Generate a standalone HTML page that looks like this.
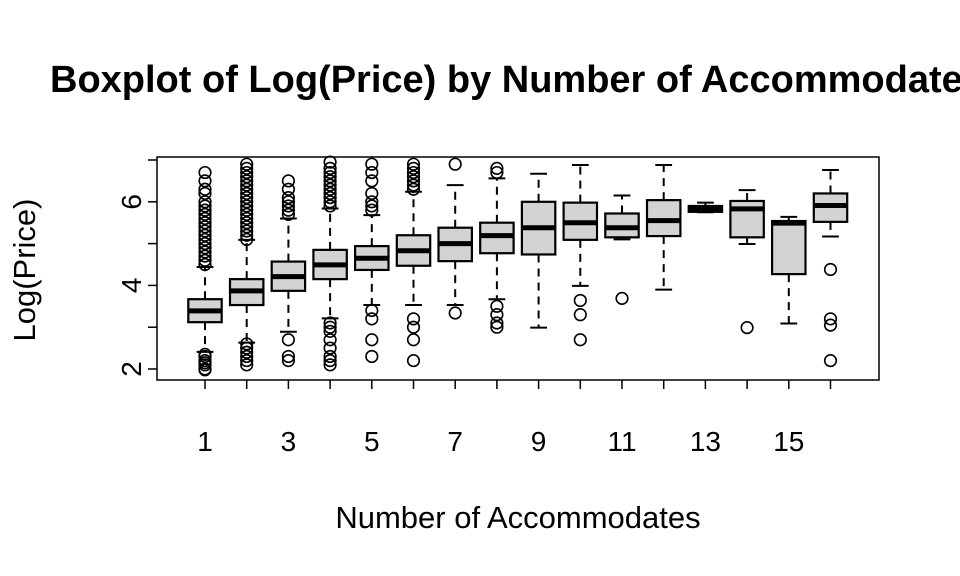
<!DOCTYPE html>
<html><head><meta charset="utf-8"><style>body{margin:0;background:#fff}svg{display:block}</style></head>
<body>
<svg id="chart" width="960" height="576" viewBox="0 0 960 576" font-family="Liberation Sans, Arial, sans-serif">
<text x="50" y="92" font-size="38" font-weight="bold">Boxplot of Log(Price) by Number of Accommodates</text>
<rect x="157" y="157" width="722" height="223" fill="none" stroke="#000" stroke-width="1.5"/>
<text transform="translate(35,270) rotate(-90)" text-anchor="middle" font-size="31">Log(Price)</text>
<text x="518" y="528" text-anchor="middle" font-size="31">Number of Accommodates</text>
<g id="axes"></g>
<g id="boxes"></g>
</svg>
<script>
const categories = [1,2,3,4,5,6,7,8,9,10,11,12,13,14,15,16];
const q1 = [3.12,3.53,3.87,4.15,4.37,4.47,4.58,4.77,4.74,5.09,5.15,5.18,5.76,5.15,4.27,5.52];
const medians = [3.39,3.87,4.21,4.49,4.65,4.83,5.0,5.19,5.38,5.5,5.38,5.55,5.83,5.83,5.49,5.91];
const q3 = [3.67,4.15,4.57,4.85,4.94,5.2,5.38,5.5,6.0,5.98,5.72,6.04,5.9,6.02,5.54,6.2];
const whiskerLow = [2.41,2.63,2.89,3.21,3.53,3.53,3.53,3.67,2.99,3.99,5.1,3.9,5.75,4.99,3.09,5.17];
const whiskerHigh = [4.44,5.09,5.6,5.84,5.68,6.24,6.4,6.56,6.67,6.88,6.15,6.88,5.98,6.28,5.64,6.76];
const outliers = [
 [4.5,4.6,4.7,4.8,4.9,5.0,5.1,5.2,5.3,5.4,5.5,5.6,5.7,5.8,5.9,6.0,6.2,6.3,6.5,6.7,2.35,2.3,2.2,2.15,2.1,2.0,1.98],
 [5.1,5.2,5.3,5.4,5.5,5.6,5.7,5.8,5.9,6.0,6.1,6.2,6.3,6.4,6.5,6.6,6.7,6.8,6.9,2.6,2.5,2.4,2.3,2.2,2.1],
 [5.7,5.8,5.9,6.0,6.1,6.3,6.5,2.7,2.3,2.2],
 [5.9,6.0,6.1,6.2,6.3,6.4,6.5,6.6,6.7,6.8,6.95,3.1,3.0,2.9,2.7,2.5,2.3,2.2,2.1],
 [5.8,5.9,6.0,6.2,6.5,6.7,6.9,3.4,3.2,2.7,2.3],
 [6.3,6.4,6.5,6.6,6.7,6.8,6.9,3.2,3.0,2.7,2.2],
 [6.9,3.34],
 [6.7,6.8,3.5,3.3,3.1,3.0],
 [],
 [3.64,3.3,2.7],
 [3.69],
 [],
 [],
 [2.99],
 [],
 [4.38,3.2,3.05,2.2]
];
const yTicks = [2,3,4,5,6,7];
const yLabels = ['2','','4','','6',''];
const xLabels = ['1','3','5','7','9','11','13','15'];

const NS='http://www.w3.org/2000/svg';
const xs = c => 205 + (c-1)*41.7;
const ys = v => 369 - (v-2)*41.8;
function mk(tag, attrs, parent){const e=document.createElementNS(NS,tag);for(const k in attrs)e.setAttribute(k,attrs[k]);parent.appendChild(e);return e;}
const axes=document.getElementById('axes'), boxes=document.getElementById('boxes');
yTicks.forEach((t,i)=>{
  const l=mk('line',{x1:148,x2:157,y1:ys(t),y2:ys(t),stroke:'#000','stroke-width':1.5},axes);
  
  
  if(yLabels[i]){const tx=mk('text',{transform:`translate(141,${ys(t)}) rotate(-90)`,'text-anchor':'middle','font-size':28},axes);tx.textContent=yLabels[i];
  
  }
});
categories.forEach(c=>{
  const l=mk('line',{x1:xs(c),x2:xs(c),y1:380,y2:389,stroke:'#000','stroke-width':1.5},axes);
  
  
});
xLabels.forEach(s=>{
  const tx=mk('text',{x:xs(+s),y:451,'text-anchor':'middle','font-size':28},axes);tx.textContent=s;
  
  
});
categories.forEach((c,i)=>{
  const g=mk('g',{},boxes);
  
  
  const x=xs(c), hw=16.7, cw=8.4;
  mk('line',{x1:x,x2:x,y1:ys(q3[i]),y2:ys(whiskerHigh[i]),stroke:'#000','stroke-width':2,'stroke-dasharray':'8,6'},g);
  mk('line',{x1:x,x2:x,y1:ys(q1[i]),y2:ys(whiskerLow[i]),stroke:'#000','stroke-width':2,'stroke-dasharray':'8,6'},g);
  mk('line',{x1:x-cw,x2:x+cw,y1:ys(whiskerHigh[i]),y2:ys(whiskerHigh[i]),stroke:'#000','stroke-width':2},g);
  mk('line',{x1:x-cw,x2:x+cw,y1:ys(whiskerLow[i]),y2:ys(whiskerLow[i]),stroke:'#000','stroke-width':2},g);
  mk('rect',{x:x-hw,y:ys(q3[i]),width:2*hw,height:ys(q1[i])-ys(q3[i]),fill:'#d3d3d3',stroke:'#000','stroke-width':2.2},g);
  mk('line',{x1:x-hw,x2:x+hw,y1:ys(medians[i]),y2:ys(medians[i]),stroke:'#000','stroke-width':5},g);
  outliers[i].forEach(v=>mk('circle',{cx:x,cy:ys(v),r:5.8,fill:'none',stroke:'#000','stroke-width':1.6},g));
});
</script>
</body></html>
